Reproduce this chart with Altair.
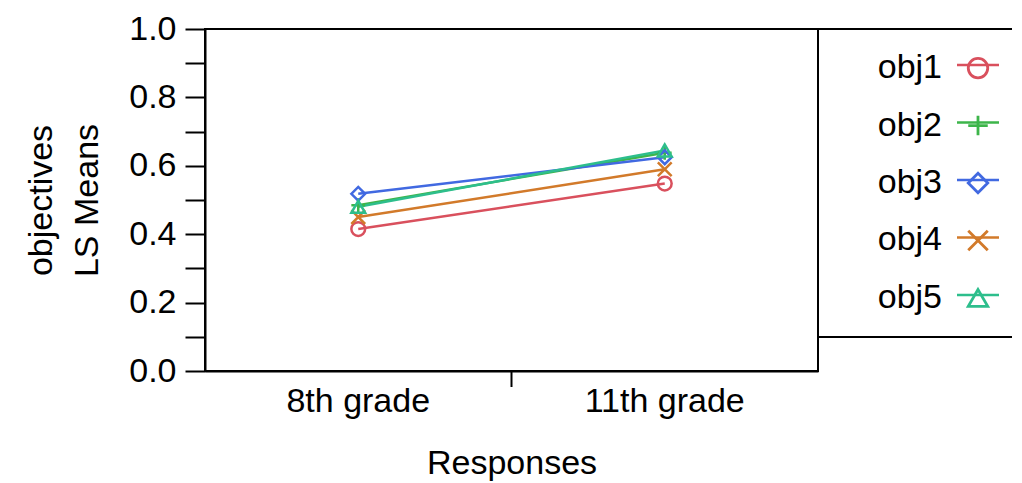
import altair as alt
import pandas as pd

grades = ["8th grade", "11th grade"]
series = ["obj1", "obj2", "obj3", "obj4", "obj5"]
vals_8th = [0.415, 0.485, 0.518, 0.45, 0.48]
vals_11th = [0.548, 0.638, 0.625, 0.59, 0.645]
colors = ["#D9505D", "#3DB54A", "#4169E1", "#D27A2A", "#2DBE8C"]
shapes = ["circle", "M-1,0L1,0M0,-1L0,1", "diamond", "M-1,-1L1,1M-1,1L1,-1", "triangle-up"]
y_ticks = [round(i * 0.1, 1) for i in range(11)]

rows = []
for i, s in enumerate(series):
    rows.append({"grade": grades[0], "series": s, "value": vals_8th[i]})
    rows.append({"grade": grades[1], "series": s, "value": vals_11th[i]})
df = pd.DataFrame(rows)
leg_df = pd.DataFrame({"series": series})
one = pd.DataFrame({"k": [0]})

FONT = "Liberation Sans"
FS = 34
W, H = 613, 342
LW, LH = 194, 308

color_enc = alt.Color("series:N", scale=alt.Scale(domain=series, range=colors), legend=None)
shape_enc = alt.Shape("series:N", scale=alt.Scale(domain=series, range=shapes), legend=None)

x = alt.X(
    "grade:N", sort=grades,
    scale=alt.Scale(type="band", paddingInner=0, paddingOuter=0),
    axis=alt.Axis(title="Responses", ticks=False, labelAngle=0, labelPadding=13,
                  titlePadding=28, domainColor="black", domainWidth=2,
                  labelFontSize=FS, titleFontSize=FS, labelColor="black",
                  titleColor="black", titleFontWeight="normal", labelFont=FONT, titleFont=FONT),
)
y = alt.Y(
    "value:Q",
    scale=alt.Scale(domain=[0, 1], nice=False),
    axis=alt.Axis(title=["objectives", "LS Means"], values=y_ticks,
                  labelExpr="(round(datum.value*10) % 2 == 0) ? format(datum.value, '.1f') : ''",
                  tickSize=20, tickWidth=2, tickColor="black", domainWidth=2,
                  domainColor="black", labelPadding=9, grid=False, titlePadding=24,
                  labelFontSize=FS, titleFontSize=FS, labelColor="black", titleColor="black",
                  titleFontWeight="normal", labelFont=FONT, titleFont=FONT, titleLineHeight=46),
)

lines = alt.Chart(df).mark_line(strokeWidth=2.5).encode(x=x, y=y, color=color_enc)
points = alt.Chart(df).mark_point(filled=False, size=190, strokeWidth=2.5, opacity=1).encode(
    x=x, y=y, color=color_enc, shape=shape_enc)
mid_tick = alt.Chart(one).mark_rule(color="black", strokeWidth=2).encode(
    x=alt.value(W / 2), y=alt.value(H), y2=alt.value(H + 16))

plot = alt.layer(lines, points, mid_tick).properties(width=W, height=H)

ly = alt.Y("series:N", sort=series, scale=alt.Scale(type="point", padding=0.68), axis=None)
leg_text = alt.Chart(leg_df).mark_text(align="right", baseline="middle", fontSize=FS,
                                       font=FONT, color="black").encode(
    x=alt.value(124), y=ly, text="series:N")
leg_seg = alt.Chart(leg_df).mark_rule(strokeWidth=2.5, yOffset=-3).encode(
    x=alt.value(139), x2=alt.value(181), y=ly, color=color_enc)
leg_sym = alt.Chart(leg_df).mark_point(filled=False, size=380, strokeWidth=2.8, opacity=1).encode(
    x=alt.value(160), y=ly, color=color_enc, shape=shape_enc)
top_line = alt.Chart(one).mark_rule(color="black", strokeWidth=2).encode(
    x=alt.value(0), x2=alt.value(LW), y=alt.value(0))
bot_line = alt.Chart(one).mark_rule(color="black", strokeWidth=2).encode(
    x=alt.value(0), x2=alt.value(LW), y=alt.value(LH))

legend_panel = alt.layer(leg_seg, leg_sym, leg_text, top_line, bot_line).properties(
    width=LW, height=LH, view=alt.ViewBackground(strokeOpacity=0))

chart = alt.hconcat(plot, legend_panel, spacing=0, bounds="flush").properties(
    padding={"left": 15, "top": 3, "right": 0, "bottom": 0}
).configure(font=FONT).configure_view(stroke="black", strokeWidth=2)

chart.save("out.html", embed_options={"renderer": "svg", "actions": False})
